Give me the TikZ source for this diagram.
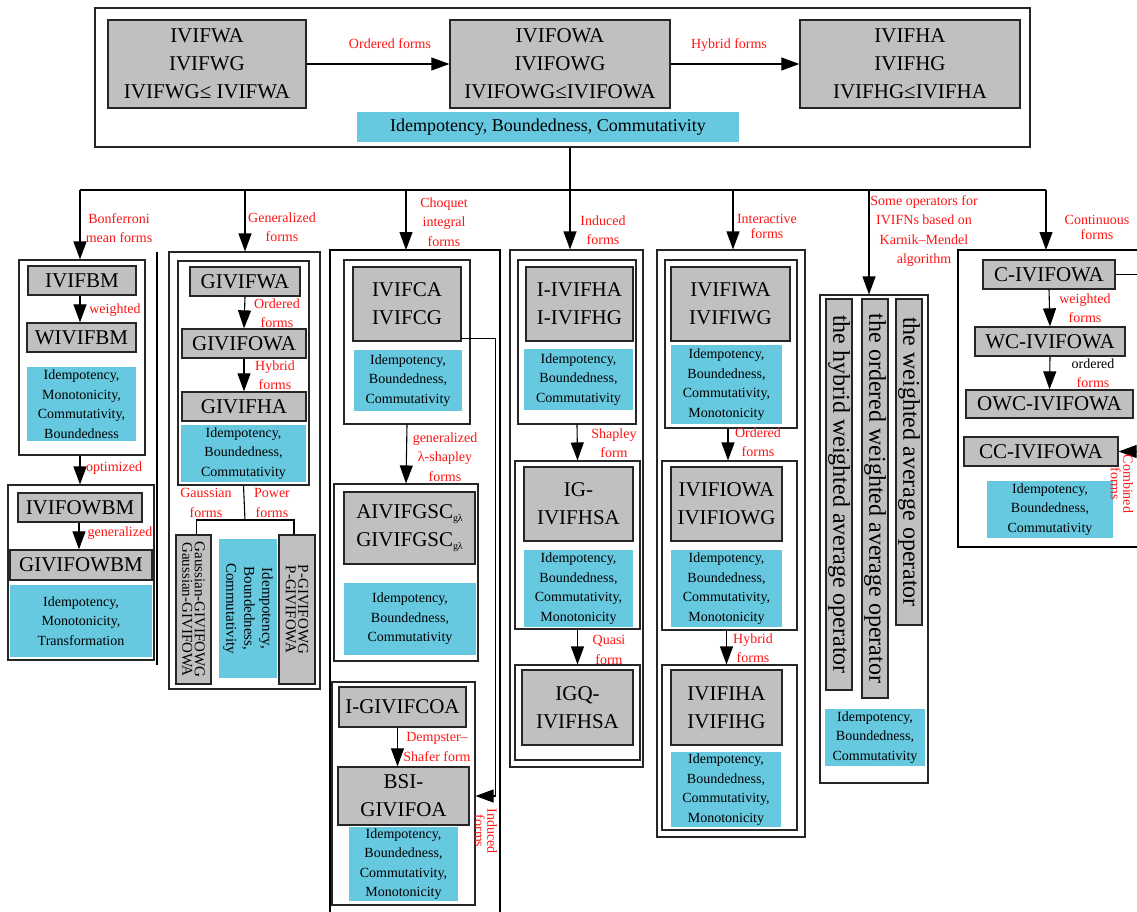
\documentclass[tikz,border=0pt]{standalone}
\usepackage{fontspec}
\setmainfont{Liberation Serif}
\usetikzlibrary{arrows.meta}
\definecolor{boxgray}{RGB}{192,192,192}
\definecolor{cyanb}{RGB}{102,201,224}
\definecolor{lred}{RGB}{255,20,20}
\newcommand\mkbox[7]{\node[#2, minimum width={(#5)-(#3)}, minimum height={(#6)-(#4)}] (#1) at ({((#3)+(#5))/2},{((#4)+(#6))/2}) {#7};}
\newcommand\mkrbox[7]{\node[#2, rotate=-90, minimum width={(#6)-(#4)}, minimum height={(#5)-(#3)}] (#1) at ({((#3)+(#5))/2},{((#4)+(#6))/2}) {#7};}
\newcommand\sbgl{\raisebox{-3pt}{\fontsize{10}{10}\selectfont g\kern-0.3pt λ}}
\tikzset{
  gbox/.style={draw=black!85, fill=boxgray, line width=1.3pt, inner sep=0pt, align=center, font=\fontsize{21}{28}\selectfont},
  cbox/.style={fill=cyanb, inner sep=0pt, align=center, font=\fontsize{14}{19.5}\selectfont},
  frame/.style={draw=black!85, line width=1.1pt, inner sep=0pt},
  lbl/.style={text=lred, align=center, font=\fontsize{14}{19.5}\selectfont, inner sep=0pt},
  rlbl/.style={lbl, rotate=-90, font=\fontsize{14}{12.5}\selectfont},
  arr/.style={line width=1.1pt, -{Triangle[length=18pt,width=13pt]}},
  ln/.style={line width=1.1pt},
  rsmall/.style={font=\fontsize{15}{12.5}\selectfont},
  barfont/.style={font=\fontsize{24}{26}\selectfont},
}
\begin{document}
\begin{tikzpicture}[x=1pt,y=-1pt]
\useasboundingbox (0,0) rectangle (1137,912);
% ---------- top block
\mkbox{top}{frame}{95}{8}{1030}{147}{}
\mkbox{wa}{gbox}{108}{20}{306}{108}{IVIFWA\\IVIFWG\\IVIFWG≤ IVIFWA}
\mkbox{owa}{gbox}{450}{20}{670}{108}{IVIFOWA\\IVIFOWG\\IVIFOWG≤IVIFOWA}
\mkbox{ha}{gbox}{800}{20}{1020}{108}{IVIFHA\\IVIFHG\\IVIFHG≤IVIFHA}
\mkbox{tc}{cbox,font=\fontsize{18}{20}\selectfont}{357}{112}{739}{142}{Idempotency, Boundedness, Commutativity}
\draw[arr] (wa.east) -- (owa.west);
\node[lbl] (lord) at (390,44) {Ordered forms};
\draw[arr] (owa.east) -- (ha.west);
\node[lbl] (lhyb) at (729,45) {Hybrid forms};
% ---------- bus
\coordinate (bus) at (570,190);
\coordinate (b1) at (80,190);
\coordinate (b2) at (245,190);
\coordinate (b3) at (406,190);
\coordinate (b5) at (733,190);
\coordinate (b6) at (869,190);
\coordinate (b7) at (1046,190);
\draw[ln] (top.south -| bus) -- (bus);
\draw[ln] (b1) -- (b7);
% ---------- column 1
\mkbox{c1a}{frame}{19}{260}{145}{455}{}
\mkbox{ivifbm}{gbox}{28}{266}{136}{295}{IVIFBM}
\mkbox{wivifbm}{gbox}{27}{323}{136}{352}{WIVIFBM}
\mkbox{c1cy}{cbox}{27}{367}{136}{441}{Idempotency,\\Monotonicity,\\Commutativity,\\Boundedness}
\mkbox{c1b}{frame}{8}{485}{154}{660}{}
\mkbox{ivifowbm}{gbox}{18}{493}{142}{522}{IVIFOWBM}
\mkbox{givifowbm}{gbox}{10}{550}{152}{580}{GIVIFOWBM}
\mkbox{c1cy2}{cbox}{10}{585}{152}{657}{Idempotency,\\Monotonicity,\\Transformation}
\draw[arr] (b1) -- (b1 |- c1a.north);
\node[lbl] (lbon) at (119,228) {Bonferroni\\mean forms};
\draw[arr] ([xshift=-2pt]ivifbm.south) -- ([xshift=-2pt]ivifbm.south |- wivifbm.north);
\node[lbl] (lw1) at (115,310) {weighted};
\draw[arr] ([xshift=-2pt]c1a.south) -- ([xshift=-2pt]c1a.south |- c1b.north);
\node[lbl] (lopt) at (114,468) {optimized};
\draw[arr] ([xshift=-1pt]ivifowbm.south) -- ([xshift=-1pt]ivifowbm.south |- givifowbm.north);
\node[lbl] (lgen1) at (120,533) {generalized};
\coordinate (s1a) at (157,252);
\coordinate (s1b) at (157,665);
\draw[ln] (s1a) -- (s1b);
% ---------- column 2
\mkbox{c2o}{frame}{169}{252}{320}{689}{}
\mkbox{c2i}{frame}{178}{261}{309}{485}{}
\mkbox{givifwa}{gbox}{190}{267}{300}{296}{GIVIFWA}
\mkbox{givifowa}{gbox}{182}{329}{306}{358}{GIVIFOWA}
\mkbox{givifha}{gbox}{182}{392}{306}{421}{GIVIFHA}
\mkbox{c2cy}{cbox}{181}{425}{306}{482}{Idempotency,\\Boundedness,\\Commutativity}
\draw[arr] (b2) -- (b2 |- c2o.north);
\node[lbl] (lgen2) at (282,227) {Generalized\\forms};
\draw[arr] (givifwa.south) -- (givifowa.north);
\node[lbl] (lord2) at (277,313) {Ordered\\forms};
\draw[arr] (givifowa.south) -- (givifha.north);
\node[lbl] (lhyb2) at (275,375) {Hybrid\\forms};
\mkrbox{gauss}{gbox,rsmall}{176}{535}{211}{684}{Gaussian-GIVIFOWG\\Gaussian-GIVIFOWA}
\mkrbox{c2cyr}{cbox,font=\fontsize{15}{18}\selectfont}{219}{539}{277}{678}{Idempotency,\\Boundedness,\\Commutativity}
\mkrbox{pgiv}{gbox,rsmall}{279}{535}{315}{684}{P-GIVIFOWG\\P-GIVIFOWA}
\coordinate (j2) at (245,520);
\draw[ln] (c2i.south) -- (j2);
\draw[ln] ([xshift=3pt]gauss.west) |- (j2) -| ([xshift=-3pt]pgiv.west);
\node[lbl] (lgau) at (206,503) {Gaussian\\forms};
\node[lbl] (lpow) at (272,503) {Power\\forms};
% ---------- column 3
\coordinate (c3bl) at (330,912);
\coordinate (c3tl) at (330,250);
\coordinate (c3tr) at (500,250);
\coordinate (c3br) at (500,912);
\draw[ln] (c3bl) -- (c3tl) -- (c3tr) -- (c3br);
\draw[arr] (b3) -- (b3 |- c3tl);
\node[lbl] (lcho) at (444,222) {Choquet\\integral\\forms};
\mkbox{c3i1}{frame}{344}{260}{470}{424}{}
\mkbox{ivifca}{gbox}{353}{267}{461}{341}{IVIFCA\\IVIFCG}
\mkbox{c3cy1}{cbox}{354}{350}{462}{411}{Idempotency,\\Boundedness,\\Commutativity}
\mkbox{c3i2}{frame}{334}{484}{478}{661}{}
\mkbox{aiv}{gbox}{344}{492}{475}{564}{AIVIFGSC\sbgl\\GIVIFGSC\sbgl}
\mkbox{c3cy2}{cbox}{344}{583}{476}{655}{Idempotency,\\Boundedness,\\Commutativity}
\draw[arr] (c3i1.south) -- (c3i2.north);
\node[lbl] (lgls) at (445,457) {generalized\\λ-shapley\\forms};
\mkbox{c3i3}{frame}{332}{682}{475}{905}{}
\mkbox{igc}{gbox}{339}{687}{466}{727}{I-GIVIFCOA}
\mkbox{bsi}{gbox}{338}{767}{469}{825}{BSI-\\GIVIFOA}
\mkbox{c3cy3}{cbox}{349}{827}{458}{901}{Idempotency,\\Boundedness,\\Commutativity,\\Monotonicity}
\draw[arr] ([xshift=-5pt]igc.south) -- ([xshift=-5pt]igc.south |- bsi.north);
\node[lbl] (lds) at (437,747) {Dempster–\\Shafer form};
\draw[arr] ([yshift=3pt]ivifca.south east) -- ++(34,0) coordinate (k3) -- (k3 |- bsi.east) -- (c3i3.east |- bsi.east);
\node[rlbl] (lind3) at (486,831) {Induced\\forms};
% ---------- column 4
\mkbox{c4o}{frame}{510}{250}{643}{767}{}
\draw[arr] (bus) -- (bus |- c4o.north);
\node[lbl] (lind) at (603,230) {Induced\\forms};
\mkbox{c4i1}{frame}{518}{260}{636}{424}{}
\mkbox{iivifha}{gbox}{526}{267}{633}{341}{I-IVIFHA\\I-IVIFHG}
\mkbox{c4cy1}{cbox}{524}{349}{633}{410}{Idempotency,\\Boundedness,\\Commutativity}
\mkbox{c4i2}{frame}{515}{461}{640}{629}{}
\mkbox{ig}{gbox}{524}{467}{633}{541}{IG-\\IVIFHSA}
\mkbox{c4cy2}{cbox}{524}{550}{633}{627}{Idempotency,\\Boundedness,\\Commutativity,\\Monotonicity}
\mkbox{c4i3}{frame}{515}{665}{640}{760}{}
\mkbox{igq}{gbox}{522}{670}{633}{745}{IGQ-\\IVIFHSA}
\draw[arr] (c4i1.south) -- (c4i2.north);
\node[lbl] (lsha) at (614,443) {Shapley\\form};
\draw[arr] (c4i2.south) -- (c4i3.north);
\node[lbl] (lqua) at (609,650) {Quasi\\form};
% ---------- column 5
\mkbox{c5o}{frame}{657}{250}{805}{837}{}
\draw[arr] (b5) -- (b5 |- c5o.north);
\node[lbl, font=\fontsize{14}{15}\selectfont] (lint) at (767,226) {Interactive\\forms};
\mkbox{c5i1}{frame}{665}{260}{797}{428}{}
\mkbox{iviwa}{gbox}{671}{267}{790}{341}{IVIFIWA\\IVIFIWG}
\mkbox{c5cy1}{cbox}{671}{345}{782}{424}{Idempotency,\\Boundedness,\\Commutativity,\\Monotonicity}
\mkbox{c5i2}{frame}{662}{461}{797}{630}{}
\mkbox{ivioa}{gbox}{671}{467}{782}{541}{IVIFIOWA\\IVIFIOWG}
\mkbox{c5cy2}{cbox}{671}{550}{782}{627}{Idempotency,\\Boundedness,\\Commutativity,\\Monotonicity}
\mkbox{c5i3}{frame}{662}{665}{797}{830}{}
\mkbox{ivih}{gbox}{671}{670}{782}{745}{IVIFIHA\\IVIFIHG}
\mkbox{c5cy3}{cbox}{671}{752}{781}{827}{Idempotency,\\Boundedness,\\Commutativity,\\Monotonicity}
\draw[arr] ([xshift=-3pt]c5i1.south) -- ([xshift=-3pt]c5i1.south |- c5i2.north);
\node[lbl] (lord5) at (758,442) {Ordered\\forms};
\draw[arr] ([xshift=-3pt]c5i2.south) -- ([xshift=-3pt]c5i2.south |- c5i3.north);
\node[lbl] (lhyb5) at (753,648) {Hybrid\\forms};
% ---------- column 6
\mkbox{c6o}{frame}{820}{295}{928}{783}{}
\draw[arr] (b6) -- (b6 |- c6o.north);
\node[lbl] (lkm) at (924,231) {Some operators for\\IVIFNs based on\\Karnik–Mendel\\algorithm};
\mkrbox{bar1}{gbox,barfont}{826}{299}{852}{690}{the hybrid weighted average operator}
\mkrbox{bar2}{gbox,barfont}{862}{299}{888}{698}{the ordered weighted average operator}
\mkrbox{bar3}{gbox,barfont}{896}{299}{922}{625}{the weighted average operator}
\mkbox{c6cy}{cbox}{825}{709}{925}{766}{Idempotency,\\Boundedness,\\Commutativity}
% ---------- column 7
\coordinate (c7a) at (1137,250);
\coordinate (c7b) at (958,250);
\coordinate (c7c) at (958,547);
\coordinate (c7d) at (1137,547);
\draw[ln] (c7a) -- (c7b) -- (c7c) -- (c7d);
\draw[arr] (b7) -- (b7 |- c7b);
\node[lbl, font=\fontsize{14}{15}\selectfont] (lcon) at (1097,227) {Continuous\\forms};
\mkbox{civ}{gbox}{983}{260}{1115}{289}{C-IVIFOWA}
\mkbox{wciv}{gbox}{975}{327}{1125}{356}{WC-IVIFOWA}
\mkbox{owciv}{gbox}{966}{390}{1133}{418}{OWC-IVIFOWA}
\mkbox{cciv}{gbox}{964}{437}{1118}{466}{CC-IVIFOWA}
\mkbox{c7cy}{cbox}{987}{481}{1113}{538}{Idempotency,\\Boundedness,\\Commutativity}
\draw[arr] (civ.south) -- (wciv.north);
\node[lbl] (lw7) at (1085,308) {weighted\\forms};
\draw[arr] (wciv.south) -- (owciv.north);
\node[lbl, text=black] (lord7) at (1093,364) {ordered};
\node[lbl] (lfor7) at (1093,383) {forms};
\coordinate (redge) at (1137,0);
\draw[ln] (civ.east) -- (civ.east -| redge);
\draw[arr] (cciv.east -| redge) -- (cciv.east);
\node[rlbl] (lcomb) at (1122,484) {Combined\\forms};
\end{tikzpicture}
\end{document}
